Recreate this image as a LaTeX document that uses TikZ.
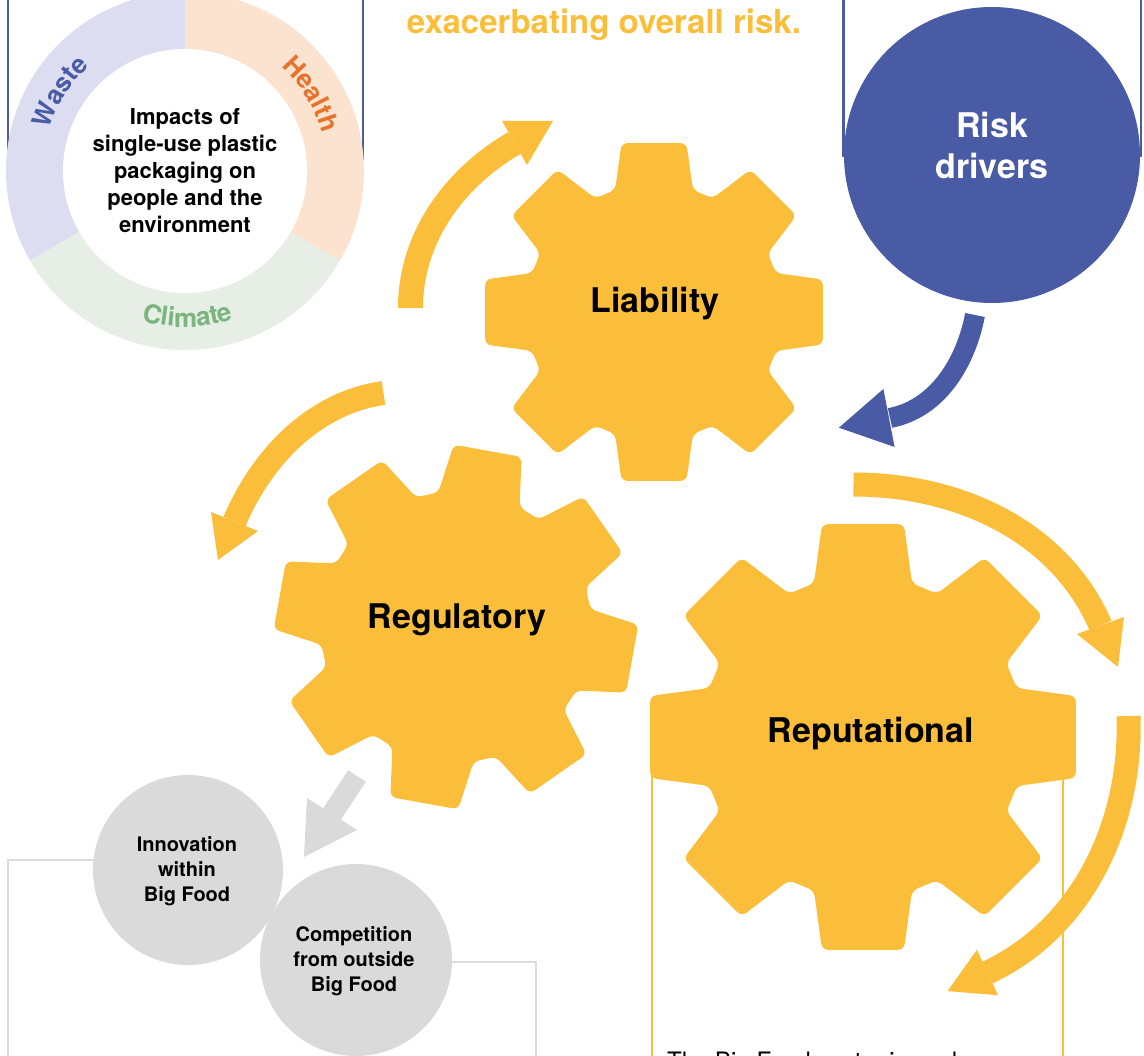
\documentclass[tikz,border=0pt]{standalone}
\usepackage{fontspec}
\setmainfont{TeX Gyre Heros}
\usetikzlibrary{decorations.text}
\definecolor{gearyel}{HTML}{FBBE3B}
\definecolor{rblue}{HTML}{4A5BA6}
\definecolor{wastebg}{HTML}{DCDDF0}
\definecolor{healthbg}{HTML}{FCE3D0}
\definecolor{climatebg}{HTML}{E6EEE6}
\definecolor{wastetxt}{HTML}{4A5BA6}
\definecolor{healthtxt}{HTML}{E8722C}
\definecolor{climatetxt}{HTML}{7AB57F}
\definecolor{greyfill}{HTML}{DADADA}
\definecolor{greyline}{HTML}{DCDCDC}
\newcommand{\gearshape}[4]{%
  \fill[gearyel, rounded corners=6pt, shift={(#1,#2)}, scale=#3]
    (#4-22.5:128)
    \foreach \a in {0,45,...,315}{
      -- (#4+\a-17.7:128) -- (#4+\a-10.9:172) -- (#4+\a+10.9:172) -- (#4+\a+17.7:128)
    } -- cycle;
}
\tikzset{
  frameline/.style={line width=2.5pt},
  yshaft/.style={draw=gearyel, line width=24pt, line cap=butt},
  gearlabel/.style={font=\bfseries\fontsize{34}{41}\selectfont, anchor=base},
  donuttext/.style={font=\bfseries\fontsize{22}{27}\selectfont, align=center},
  greytext/.style={font=\bfseries\fontsize{20}{25}\selectfont, align=center},
}
\begin{document}
\begin{tikzpicture}[x=1pt,y=1pt]
\useasboundingbox (0,0) rectangle (1144,-1056);
\clip (0,0) rectangle (1144,-1056);
% frame lines
\draw[rblue, frameline] (8,0) -- (8,-150);
\draw[rblue, frameline] (363,0) -- (363,-160);
\draw[rblue, frameline] (843.5,0) -- (843.5,-157);
\draw[rblue, frameline] (1141,0) -- (1141,-157);
\draw[gearyel, frameline] (652,-770) -- (652,-1060);
\draw[gearyel, frameline] (1063,-770) -- (1063,-1060);
\draw[greyline, frameline] (100,-860) -- (8,-860) -- (8,-1060);
\draw[greyline, frameline] (445,-962) -- (536,-962) -- (536,-1060);
% title
\node[font=\bfseries\fontsize{33}{39}\selectfont, text=gearyel, anchor=base] (title) at (604,-34) {exacerbating overall risk.};
% donut
\coordinate (dc) at (185,-171);
\fill[wastebg] (dc) -- ++(90:179) arc[start angle=90,end angle=210,radius=179] -- cycle;
\fill[climatebg] (dc) -- ++(210:179) arc[start angle=210,end angle=330,radius=179] -- cycle;
\fill[healthbg] (dc) -- ++(330:179) arc[start angle=330,end angle=450,radius=179] -- cycle;
\fill[white] (dc) circle[radius=122];
\node[donuttext] (impacts) at (185,-171) {Impacts of\\single-use plastic\\packaging on\\people and the\\environment};
\path[decorate, decoration={text along path, text align=center, text={|\bfseries\fontsize{26}{26}\selectfont\color{wastetxt}|Waste}}]
  ([shift={(180:142)}]dc) arc[start angle=180,end angle=115.4,radius=142];
\path[decorate, decoration={text along path, text align=center, text={|\bfseries\fontsize{26}{26}\selectfont\color{healthtxt}|Health}}]
  ([shift={(64:142)}]dc) arc[start angle=64,end angle=-1.2,radius=142];
\path[decorate, decoration={text along path, text align=center, text={|\bfseries\fontsize{26}{26}\selectfont\color{climatetxt}|Climate}}]
  ([shift={(241:156)}]dc) arc[start angle=241,end angle=301,radius=156];
% risk drivers
\fill[rblue] (992,-155) circle[radius=148];
\node[font=\bfseries\fontsize{34}{41}\selectfont, text=white, align=center] (risk) at (992,-145) {Risk\\drivers};
% grey circles
\fill[greyfill] (188,-870) circle[radius=95];
\fill[greyfill] (356,-960) circle[radius=96];
\node[greytext] (innov) at (187,-871) {Innovation\\within\\Big Food};
\node[greytext] (compet) at (354,-961) {Competition\\from outside\\Big Food};
% gears
\gearshape{654}{-312}{1}{0}
\gearshape{456}{-627}{1.06}{-10.2}
\gearshape{863}{-737}{1.26}{0}
\node[gearlabel] (liab) at (655,-313) {Liability};
\node[gearlabel] (regul) at (457,-628) {Regulatory};
\node[gearlabel] (reput) at (871,-742) {Reputational};
% yellow arrows
\coordinate (aS) at (410.5,-308); \coordinate (aE) at (514.5,-143);
\draw[yshaft, line width=25pt] (aS) .. controls (410.5,-238) and (453.9,-178) .. (aE);
\fill[gearyel] (502,-121) -- (527,-165) -- (553,-121) -- cycle;
\coordinate (bS) at (383.5,-393); \coordinate (bE) at (234.5,-521.5);
\draw[yshaft] (bS) .. controls (314.2,-402.7) and (261.9,-457.1) .. (bE);
\fill[gearyel] (211,-512) -- (258,-531) -- (218,-560) -- cycle;
\coordinate (cS) at (853.5,-484.5); \coordinate (cE) at (1100.5,-625.5);
\draw[yshaft] (cS) .. controls (957.5,-484.5) and (1059.2,-530.1) .. (cE);
\fill[gearyel] (1077,-634) -- (1124,-617) -- (1118,-667) -- cycle;
\coordinate (dS) at (1128.5,-716); \coordinate (dE) at (987.5,-972.5);
\draw[yshaft] (dS) .. controls (1132.2,-822) and (1083.6,-927.7) .. (dE);
\fill[gearyel] (976.9,-949.8) -- (998.1,-995.2) -- (947.6,-991.1) -- cycle;
% blue arrow
\coordinate (eS) at (975,-315); \coordinate (eE) at (890,-418);
\draw[rblue, line width=20pt] (eS) .. controls (965.7,-362.8) and (937.8,-408.7) .. (eE);
\fill[rblue] (883.4,-389) -- (894.6,-447) -- (838.9,-427.7) -- cycle;
% grey arrow
\coordinate (gS) at (357,-776); \coordinate (gE) at (332,-814);
\draw[greyfill, line width=21pt] (gS) -- (gE);
\fill[greyfill] (307,-798) -- (357,-830) -- (304,-857) -- cycle;
% bottom text
\node[font=\fontsize{24}{29}\selectfont, anchor=base west, inner sep=0] (bottomtext) at (667,-1069) {The Big Food sector is each};
\end{tikzpicture}
\end{document}
